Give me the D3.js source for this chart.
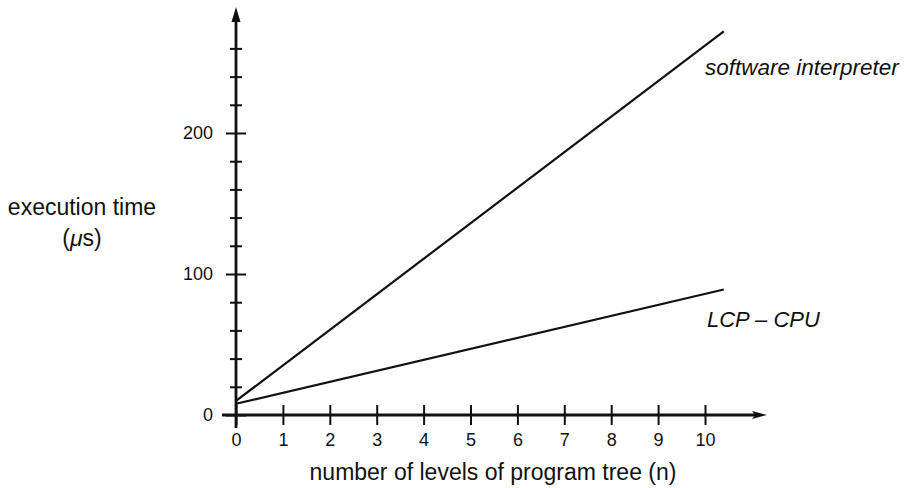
<!DOCTYPE html>
<html>
<head>
<meta charset="utf-8">
<script src="https://cdn.jsdelivr.net/npm/d3@7"></script>
<style>
  html, body { margin: 0; padding: 0; background: #fff; }
  svg { display: block; font-family: "Liberation Sans", Arial, sans-serif; }
</style>
</head>
<body>
<div id="chart"></div>
<script>
// data
const levels = [0, 10.4];
const softwareInterpreter = [10, 272];
const lcpCpu = [8, 89];

const xTicks = [0, 1, 2, 3, 4, 5, 6, 7, 8, 9, 10];
const yMajorTicks = [0, 100, 200];
const yMinorTicks = [20, 40, 60, 80, 120, 140, 160, 180, 220, 240, 260];

const width = 905;
const height = 488;

// scales
const x = d3.scaleLinear().domain([0, 10]).range([236, 705]);
const y = d3.scaleLinear().domain([0, 100]).range([415, 274]);

const svg = d3.select("#chart").append("svg")
    .attr("width", width)
    .attr("height", height);

svg.append("rect").attr("width", width).attr("height", height).attr("fill", "#fff");

// x axis: ticks cross the line
const gx = svg.append("g")
    .attr("transform", `translate(0,${y(0)})`)
    .call(d3.axisBottom(x).tickValues(xTicks).tickSize(10).tickPadding(0));
gx.select(".domain").remove();
gx.selectAll(".tick line")
    .attr("y1", -10).attr("y2", 10)
    .attr("stroke", "#111").attr("stroke-width", 2);
gx.selectAll(".tick text")
    .attr("y", 25).attr("dy", "0.35em")
    .attr("font-size", 18).attr("fill", "#111")
    .style("font-family", "Liberation Sans, Arial, sans-serif");

// y axis: minor ticks, then major ticks with labels
const gyMinor = svg.append("g")
    .attr("transform", `translate(${x(0)},0)`)
    .call(d3.axisLeft(y).tickValues(yMinorTicks).tickSize(6).tickFormat(""));
gyMinor.select(".domain").remove();
gyMinor.selectAll(".tick line")
    .attr("x1", -6).attr("x2", 6)
    .attr("stroke", "#111").attr("stroke-width", 2);

const gy = svg.append("g")
    .attr("transform", `translate(${x(0)},0)`)
    .call(d3.axisLeft(y).tickValues(yMajorTicks).tickSize(10).tickPadding(0));
gy.select(".domain").remove();
gy.selectAll(".tick line")
    .attr("x1", -10).attr("x2", 10)
    .attr("stroke", "#111").attr("stroke-width", 2);
gy.selectAll(".tick text")
    .attr("x", -23)
    .attr("font-size", 18).attr("fill", "#111")
    .style("font-family", "Liberation Sans, Arial, sans-serif");

// axis lines with arrowheads
const axisColor = "#111";
svg.append("line")
    .attr("x1", x(0)).attr("x2", x(0))
    .attr("y1", y(0) + 13).attr("y2", 14)
    .attr("stroke", axisColor).attr("stroke-width", 2.8);
svg.append("path")
    .attr("d", `M${x(0)},7 L${x(0) - 4.5},22 L${x(0) + 4.5},22 Z`)
    .attr("fill", axisColor);

svg.append("line")
    .attr("x1", 222).attr("x2", 760)
    .attr("y1", y(0)).attr("y2", y(0))
    .attr("stroke", axisColor).attr("stroke-width", 2.8);
svg.append("path")
    .attr("d", `M767,${y(0)} L752,${y(0) - 4} L755,${y(0)} L752,${y(0) + 4} Z`)
    .attr("fill", axisColor);

// series lines
const line = d3.line()
    .x((d, i) => x(levels[i]))
    .y(d => y(d));

svg.append("path")
    .datum(softwareInterpreter)
    .attr("d", line)
    .attr("fill", "none").attr("stroke", "#111").attr("stroke-width", 2.2);

svg.append("path")
    .datum(lcpCpu)
    .attr("d", line)
    .attr("fill", "none").attr("stroke", "#111").attr("stroke-width", 2.2);

// series labels
svg.append("text")
    .attr("x", 705).attr("y", 75)
    .attr("font-size", 22.5).attr("font-style", "italic").attr("fill", "#111")
    .text("software interpreter");

svg.append("text")
    .attr("x", 707).attr("y", 327)
    .attr("font-size", 22).attr("font-style", "italic").attr("fill", "#111")
    .text("LCP – CPU");

// axis titles
svg.append("text")
    .attr("x", 493).attr("y", 480)
    .attr("text-anchor", "middle")
    .attr("font-size", 23).attr("fill", "#111")
    .text("number of levels of program tree (n)");

svg.append("text")
    .attr("x", 82).attr("y", 215)
    .attr("text-anchor", "middle")
    .attr("font-size", 23).attr("fill", "#111")
    .text("execution time");

const unit = svg.append("text")
    .attr("x", 82).attr("y", 246)
    .attr("text-anchor", "middle")
    .attr("font-size", 23).attr("fill", "#111");
unit.append("tspan").text("(");
unit.append("tspan").attr("font-style", "italic").text("μ");
unit.append("tspan").text("s)");
</script>
</body>
</html>
